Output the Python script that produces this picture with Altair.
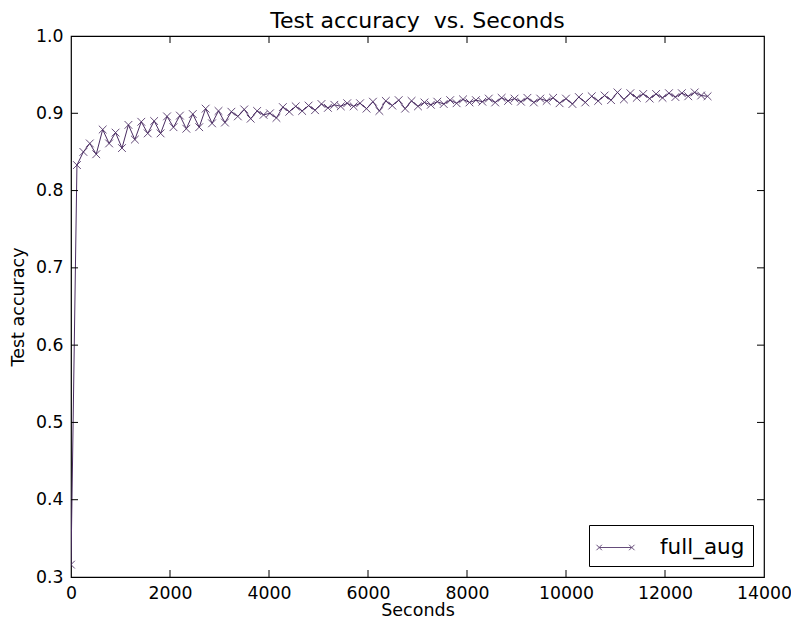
import altair as alt
import pandas as pd

seconds = [0, 120, 250, 380, 510, 640, 770, 900, 1030, 1160, 1290, 1420, 1550, 1680, 1810, 1940,
           2070, 2200, 2330, 2460, 2590, 2720, 2850, 2980, 3110, 3240, 3370, 3500, 3630, 3760,
           3890, 4020, 4150, 4280, 4410, 4540, 4670, 4800, 4930, 5060, 5190, 5320, 5450, 5580,
           5710, 5840, 5970, 6100, 6230, 6360, 6490, 6620, 6750, 6880, 7010, 7140, 7270, 7400,
           7530, 7660, 7790, 7920, 8050, 8180, 8310, 8440, 8570, 8700, 8830, 8960, 9090, 9220,
           9350, 9480, 9610, 9740, 9870, 10000, 10130, 10260, 10390, 10520, 10650, 10780, 10910,
           11040, 11170, 11300, 11430, 11560, 11690, 11820, 11950, 12080, 12210, 12340, 12470,
           12600, 12730, 12860]

accuracy = [0.316,
            0.833, 0.850, 0.861, 0.847, 0.879, 0.861, 0.875, 0.855, 0.885, 0.866,
            0.889, 0.874, 0.890, 0.874, 0.896, 0.882, 0.897, 0.880, 0.899, 0.882,
            0.906, 0.887, 0.903, 0.888, 0.902, 0.896,
            0.905, 0.893, 0.903, 0.898, 0.900, 0.894, 0.908, 0.902, 0.909, 0.903,
            0.910, 0.904, 0.912, 0.907, 0.911, 0.909, 0.913, 0.909, 0.913, 0.906,
            0.915, 0.903, 0.916, 0.910, 0.917, 0.906,
            0.916, 0.909, 0.914, 0.911, 0.915, 0.912, 0.917, 0.913, 0.918, 0.914,
            0.917, 0.915, 0.919, 0.914, 0.920, 0.916, 0.919, 0.915, 0.920, 0.914,
            0.919, 0.916, 0.920, 0.913, 0.919, 0.912,
            0.921, 0.914, 0.922, 0.916, 0.923, 0.917, 0.927, 0.918, 0.926, 0.920,
            0.925, 0.919, 0.925, 0.920, 0.926, 0.921, 0.926, 0.922, 0.927, 0.923,
            0.922]

series_name = "full_aug"
x_ticks = [0, 2000, 4000, 6000, 8000, 10000, 12000, 14000]
y_ticks = [0.3, 0.4, 0.5, 0.6, 0.7, 0.8, 0.9, 1.0]

W, H = 693, 541
COLOR = "#4b2d63"
FONT = "DejaVu Sans"
XMARK = "M-1,-1L1,1M-1,1L1,-1"
LEGEND_SYM = "M-1.2,0L1.2,0M-1.4,-0.2L-1.0,0.2M-1.4,0.2L-1.0,-0.2M1.0,-0.2L1.4,0.2M1.0,0.2L1.4,-0.2"

df = pd.DataFrame({"Seconds": seconds, "acc": accuracy, "series": [series_name] * len(seconds)})
xt = pd.DataFrame({"Seconds": x_ticks[1:-1]})
yt = pd.DataFrame({"acc": y_ticks[1:-1]})

xscale = alt.Scale(domain=[0, 14000], nice=False, zero=False)
yscale = alt.Scale(domain=[0.3, 1.0], nice=False, zero=False)
xaxis = alt.Axis(values=x_ticks, title="Seconds", format="d", labelFlush=False)
yaxis = alt.Axis(values=y_ticks, title="Test accuracy", format=".1f", labelFlush=False)

color = alt.Color("series:N", scale=alt.Scale(range=[COLOR]),
                  legend=alt.Legend(title=None, orient="none", legendX=518, legendY=489,
                                    symbolType=LEGEND_SYM, symbolSize=740,
                                    symbolStrokeColor=COLOR, symbolStrokeWidth=1,
                                    symbolFillColor="transparent", symbolOffset=4,
                                    labelFontSize=21.5, labelFont=FONT, labelColor="black",
                                    labelOffset=30,
                                    strokeColor="black", padding=8,
                                    fillColor="white"))

X = alt.X("Seconds:Q", scale=xscale, axis=xaxis)
Y = alt.Y("acc:Q", scale=yscale, axis=yaxis)

line = alt.Chart(df).mark_line(strokeWidth=1, color=COLOR, clip=True).encode(
    x=X, y=Y, color=color,
)

points = alt.Chart(df).mark_point(shape=XMARK, size=60, strokeWidth=1, filled=False,
                                  clip=True, opacity=0.85).encode(
    x=X, y=Y, color=color,
)

tick_b = alt.Chart(xt).mark_rule(color="black", strokeWidth=1).encode(
    x=X, y=alt.value(H), y2=alt.value(H - 7))
tick_t = alt.Chart(xt).mark_rule(color="black", strokeWidth=1).encode(
    x=X, y=alt.value(0), y2=alt.value(7))
tick_l = alt.Chart(yt).mark_rule(color="black", strokeWidth=1).encode(
    y=Y, x=alt.value(0), x2=alt.value(7))
tick_r = alt.Chart(yt).mark_rule(color="black", strokeWidth=1).encode(
    y=Y, x=alt.value(W), x2=alt.value(W - 7))

chart = alt.layer(line, points, tick_b, tick_t, tick_l, tick_r).properties(
    width=W, height=H,
    title=alt.TitleParams("Test accuracy \u00a0vs. Seconds", font=FONT, fontSize=22,
                          fontWeight="normal", color="black", anchor="middle", offset=-6),
    autosize=alt.AutoSizeParams(type="none"),
    padding={"left": 63, "top": 28, "right": 27, "bottom": 43},
).configure_view(stroke="black", strokeWidth=1.2).configure_axis(
    domain=False, ticks=False, grid=False,
    labelFont=FONT, labelFontSize=17.3, labelColor="black",
    titleFont=FONT, titleFontSize=17.5, titleFontWeight="normal", titleColor="black",
).configure_axisX(labelPadding=7, titlePadding=0).configure_axisY(
    labelPadding=8, titlePadding=8
)

chart.save("out.html", embed_options={"renderer": "svg", "actions": False})
